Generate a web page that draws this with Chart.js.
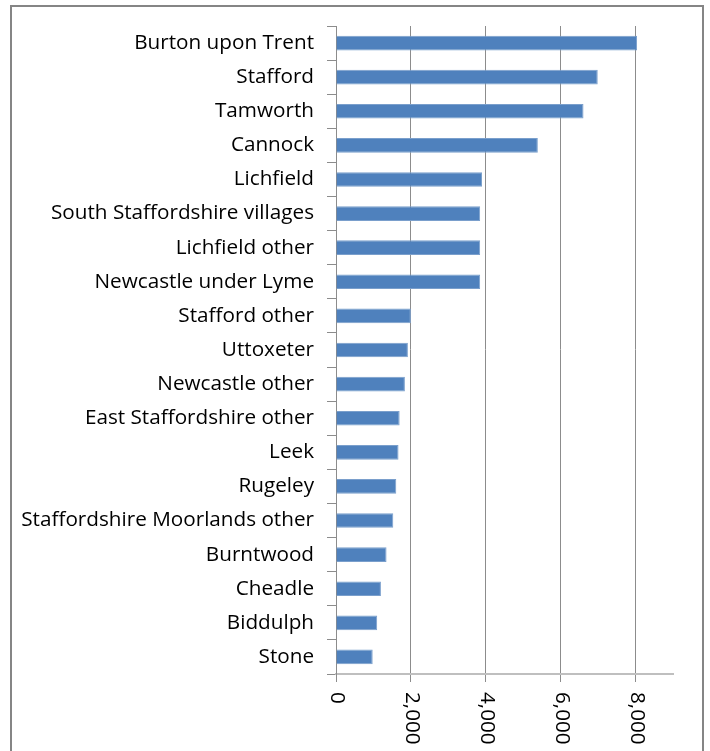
<!DOCTYPE html>
<html lang="en">
<head>
    <meta charset="UTF-8">
    <title>Staffordshire settlements</title>
    <script src="https://cdn.jsdelivr.net/npm/chart.js@4.4.1/dist/chart.umd.min.js"></script>
    <style>
        html, body {
            margin: 0;
            padding: 0;
            background: #ffffff;
            overflow: hidden;
        }
        #barChart {
            position: absolute;
            left: 0;
            top: 0;
        }
    </style>
</head>
<body>
    <canvas id="barChart" width="710" height="751"></canvas>

    <script>
        // categories, top to bottom
        const places = [
            "Burton upon Trent", "Stafford", "Tamworth", "Cannock", "Lichfield",
            "South Staffordshire villages", "Lichfield other", "Newcastle under Lyme",
            "Stafford other", "Uttoxeter", "Newcastle other", "East Staffordshire other",
            "Leek", "Rugeley", "Staffordshire Moorlands other", "Burntwood",
            "Cheadle", "Biddulph", "Stone"
        ];
        // values
        const counts = [
            8040, 6990, 6610, 5390, 3900,
            3850, 3850, 3850,
            2000, 1920, 1840, 1700,
            1670, 1610, 1530, 1350,
            1200, 1100, 980
        ];
        const xTicks = [0, 2000, 4000, 6000, 8000];
        const xMax = 9000;

        const fontFamily = "'Open Sans', Lato, sans-serif";
        const fontSize = 20.7;

        // grey frame round the chart, and x labels turned clockwise
        const framePlugin = {
            id: 'frame',
            beforeDraw(chart) {
                const ctx = chart.ctx;
                ctx.save();
                ctx.strokeStyle = '#858585';
                ctx.lineWidth = 2;
                ctx.strokeRect(11, 6, 692, 800);
                ctx.restore();
            },
            afterDraw(chart) {
                const ctx = chart.ctx;
                const x = chart.scales.x;
                ctx.save();
                ctx.font = fontSize + 'px ' + fontFamily;
                ctx.fillStyle = '#000000';
                ctx.textAlign = 'left';
                ctx.textBaseline = 'middle';
                x.ticks.forEach(t => {
                    const px = x.getPixelForValue(t.value);
                    ctx.save();
                    ctx.translate(px + 1, 692);
                    ctx.rotate(Math.PI / 2);
                    ctx.fillText(t.value.toLocaleString('en-US'), 0, 0);
                    ctx.restore();
                });
                ctx.restore();
            }
        };

        const ctx = document.getElementById('barChart').getContext('2d');
        const chart = new Chart(ctx, {
            type: 'bar',
            data: {
                labels: places,
                datasets: [{
                    data: counts,
                    backgroundColor: '#4f81bd',
                    borderColor: '#7a9fcc',
                    borderWidth: 1,
                    barPercentage: 0.43,
                    categoryPercentage: 1
                }]
            },
            options: {
                indexAxis: 'y',
                responsive: false,
                animation: false,
                devicePixelRatio: 1,
                layout: {
                    padding: { left: 0, right: 37, top: 26, bottom: 0 }
                },
                plugins: {
                    legend: { display: false },
                    tooltip: { enabled: false }
                },
                scales: {
                    x: {
                        min: 0,
                        max: xMax,
                        afterBuildTicks: axis => {
                            axis.ticks = xTicks.map(v => ({ value: v }));
                        },
                        afterFit: axis => { axis.height = 77; },
                        ticks: {
                            color: 'transparent',
                            maxRotation: 0,
                            autoSkip: false
                        },
                        grid: {
                            color: '#8c8c8c',
                            lineWidth: 1,
                            tickLength: 8,
                            drawTicks: true
                        },
                        border: {
                            display: true,
                            color: '#bfbfbf',
                            width: 2
                        }
                    },
                    y: {
                        afterFit: axis => { axis.width = 336; },
                        ticks: {
                            color: '#000000',
                            font: { family: fontFamily, size: fontSize },
                            padding: 13,
                            autoSkip: false
                        },
                        grid: {
                            offset: true,
                            drawOnChartArea: false,
                            drawTicks: true,
                            tickLength: 9,
                            color: '#8c8c8c'
                        },
                        border: {
                            display: true,
                            color: '#8c8c8c',
                            width: 1
                        }
                    }
                }
            },
            plugins: [framePlugin]
        });
    </script>
</body>
</html>
